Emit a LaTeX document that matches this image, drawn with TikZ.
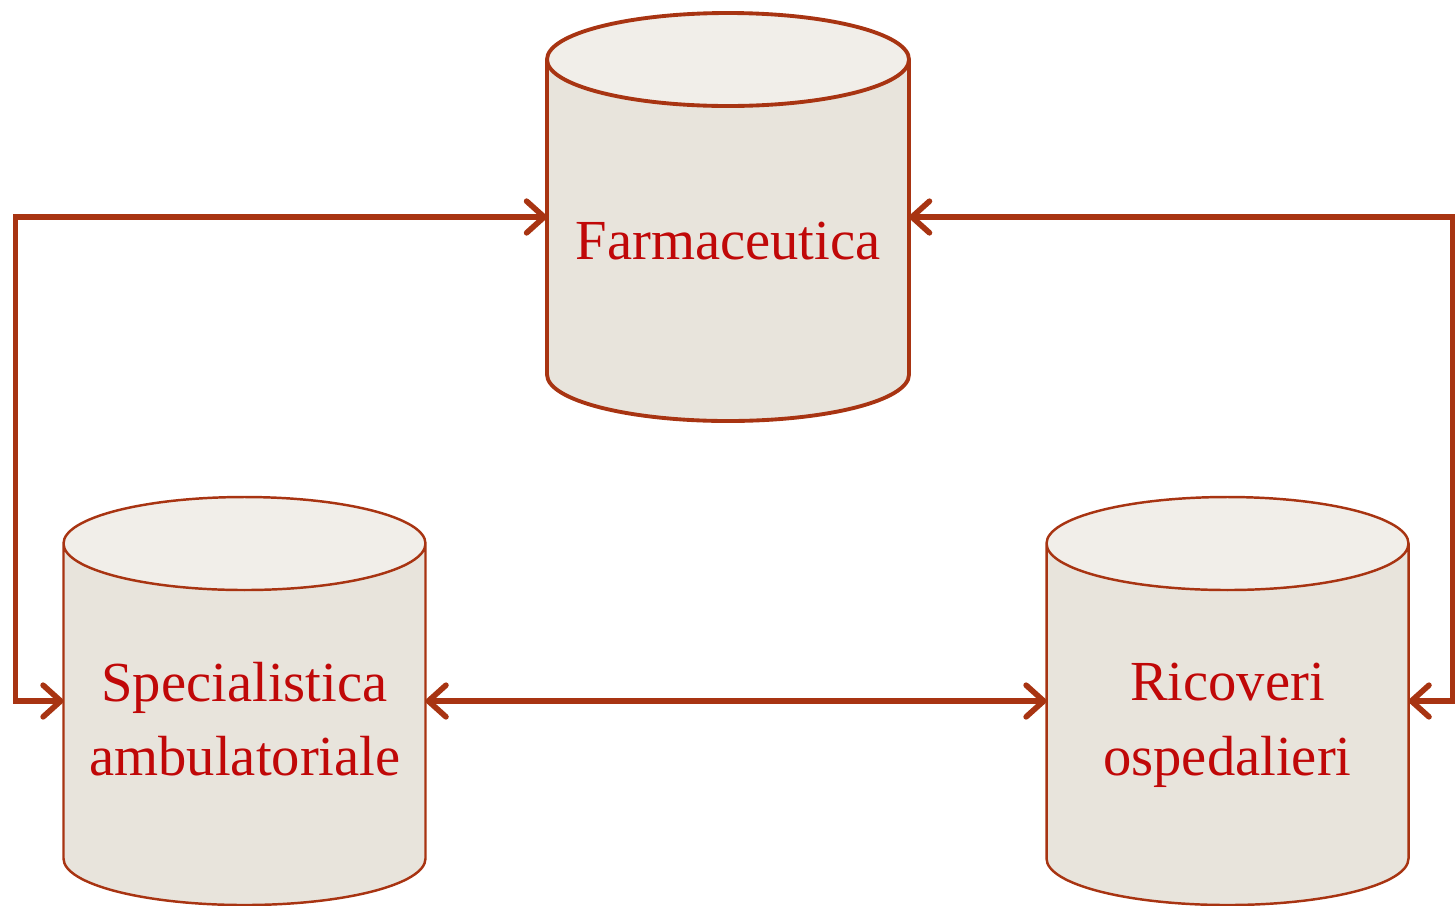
\documentclass[tikz,border=0pt]{standalone}
\usepackage{fontspec}
\setmainfont{Liberation Serif}
\usetikzlibrary{arrows.meta,shapes.geometric}
\definecolor{rust}{RGB}{168,52,18}
\definecolor{dbred}{RGB}{192,8,8}
\definecolor{dbbody}{RGB}{232,228,220}
\definecolor{dbtop}{RGB}{241,238,233}
\tikzset{>/.tip={Straight Barb[length=5pt,width=9pt,round]},
  db/.style={cylinder, shape border rotate=90, aspect=0.3, draw=rust,
    cylinder uses custom fill, cylinder body fill=dbbody, cylinder end fill=dbtop,
    minimum width=3.62cm, minimum height=4.08cm, inner sep=0pt, outer sep=0pt,
    text=dbred, text width=3.1cm, align=center, anchor=shape center,
    font=\fontsize{16.1}{21.3}\selectfont},
  dblow/.style={db, line width=0.7pt, execute at end node=\vphantom{p}},
  link/.style={<->, draw=rust, line width=1.6pt}}

\begin{document}
\begin{tikzpicture}
\useasboundingbox (0,0) rectangle (14.56,9.05);
\node[db, line width=1.1pt] (farm) at (7.28,6.88) {Farmaceutica};
\node[dblow] (spec) at (2.445,2.04) {Specialistica\\ambulatoriale};
\node[dblow] (ric) at (12.275,2.04) {Ricoveri\\ospedalieri};

\draw[link] (spec.shape center -| spec.west) -- ++(-0.48,0)
  |- (farm.shape center -| farm.west);
\draw[link] (ric.shape center -| ric.east) -- ++(0.44,0)
  |- (farm.shape center -| farm.east);
\draw[link] (spec.shape center -| spec.east) -- (ric.shape center -| ric.west);
\end{tikzpicture}
\end{document}
